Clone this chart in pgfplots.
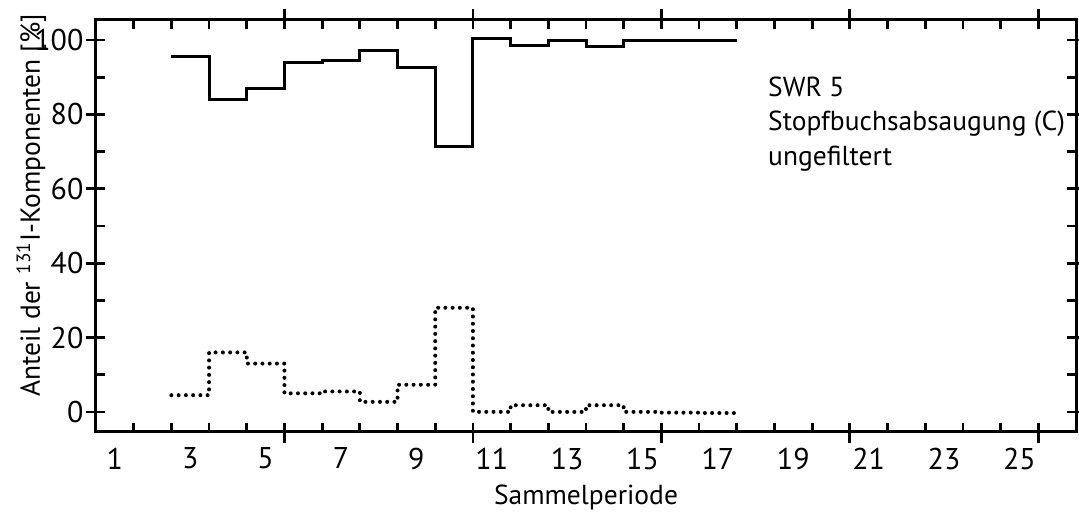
\documentclass[border=0pt]{standalone}
\usepackage{fontspec}
\setmainfont{PT Sans}
\usepackage{pgfplots}
\pgfplotsset{compat=1.18}

\begin{document}
\begin{tikzpicture}
\path[use as bounding box] (0,0) rectangle (431.6pt,205.2pt);
\begin{axis}[
  at={(38.4pt,32.4pt)}, anchor=south west,
  scale only axis, width=392pt, height=164.8pt,
  xmin=0.5, xmax=26.5, ymin=-5.4, ymax=105.4,
  axis line style={line width=1.2pt},
  every tick/.style={black, line width=1.1pt},
  tick align=inside,
  major tick length=3.6pt, minor tick length=3.6pt,
  % Perioden als Intervalle: Striche an den Grenzen, Zahlen in der Mitte
  xtick={1.5,3.5,...,25.5},
  xticklabels={1,3,5,7,9,11,13,15,17,19,21,23,25},
  minor xtick={2.5,4.5,...,26.5},
  xticklabel style={xshift=-7.54pt, yshift=-2.8pt},
  ytick={0,10,...,100},
  yticklabels={0,,20,,40,,60,,80,,100},
  yticklabel style={xshift=-1.5pt},
  extra x ticks={5.5,10.5,15.5,20.5,25.5},
  extra x tick labels={},
  extra x tick style={tick align=outside, major tick length=4.4pt},
  extra y ticks={0,20,40,60,80,100},
  extra y tick labels={},
  extra y tick style={tick align=outside, major tick length=3.8pt},
  /pgf/number format/assume math mode=true,
  tick label style={font=\fontsize{12}{14}\selectfont},
  label style={font=\fontsize{11}{13}\selectfont},
  xlabel={Sammelperiode},
  xlabel style={at={(axis description cs:0.5,-0.16)}, anchor=center},
  ylabel={Anteil der $^{\mathrm{131}}$I-Komponenten [\%]},
  ylabel style={at={(axis description cs:-0.066,0.55)}, anchor=center},
  clip=false,
]
% Hauptkomponente
\addplot[const plot, black, line width=1.2pt] coordinates {
  (2.5,95.5) (3.5,84) (4.5,87) (5.5,94) (6.5,94.5) (7.5,97.3)
  (8.5,92.5) (9.5,71.3) (10.5,100.3) (11.5,98.5) (12.5,100)
  (13.5,98.3) (14.5,100) (15.5,100) (16.5,100) (17.5,100)
};
% Restanteil
\addplot[const plot, black, line width=1.6pt, line cap=round,
         dash pattern=on 0pt off 2.9pt] coordinates {
  (2.5,4.5) (3.5,16) (4.5,13) (5.5,5) (6.5,5.5) (7.5,2.7)
  (8.5,7.3) (9.5,28) (10.5,0) (11.5,1.8) (12.5,0)
  (13.5,1.8) (14.5,0) (15.5,-0.2) (16.5,-0.3) (17.5,-0.3)
};
\node[anchor=west, font=\fontsize{11}{13}\selectfont] at (axis cs:18.1,87.5) {SWR 5};
\node[anchor=west, font=\fontsize{11}{13}\selectfont] at (axis cs:18.1,77.5) {Stopfbuchsabsaugung (C)};
\node[anchor=west, font=\fontsize{11}{13}\selectfont] at (axis cs:18.1,68) {ungefiltert};
\end{axis}
\end{tikzpicture}
\end{document}
